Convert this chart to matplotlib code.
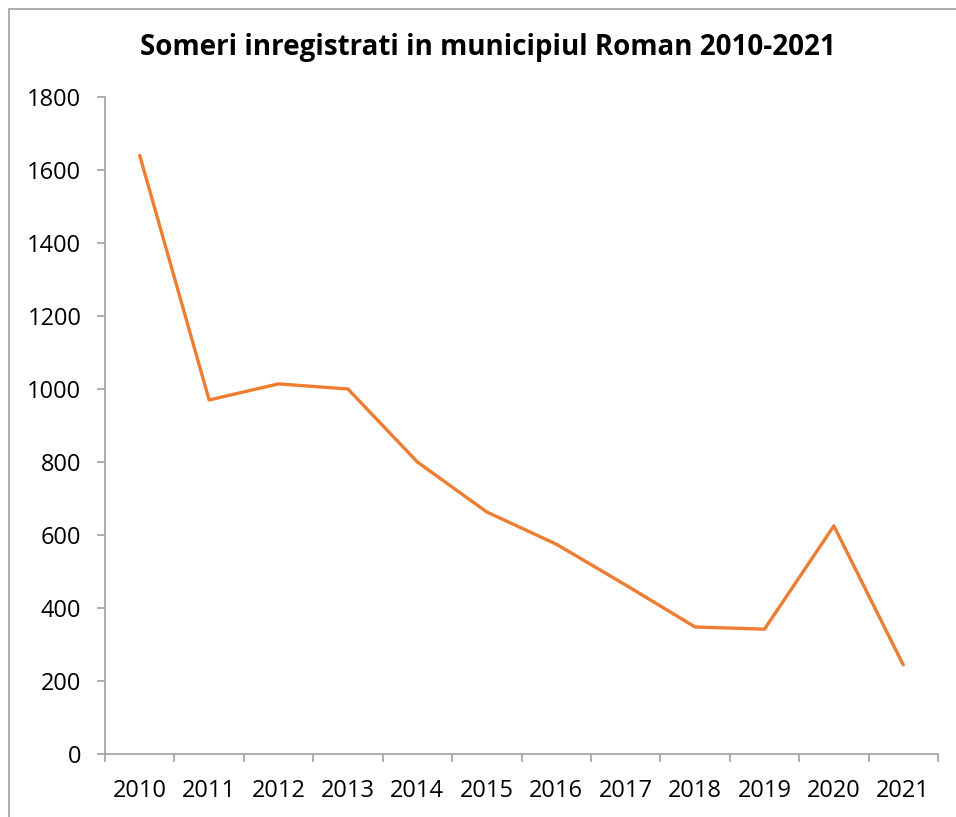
import matplotlib

matplotlib.use("Agg")
import matplotlib.pyplot as plt
from matplotlib.patches import Rectangle

years = ["2010", "2011", "2012", "2013", "2014", "2015",
         "2016", "2017", "2018", "2019", "2020", "2021"]
someri = [1640, 970, 1014, 1000, 800, 663, 575, 463, 348, 342, 625, 244]
y_ticks = [0, 200, 400, 600, 800, 1000, 1200, 1400, 1600, 1800]

ORANGE = "#ED7D31"
AXIS = "#A0A0A0"

plt.rcParams["font.family"] = ["Open Sans", "DejaVu Sans"]

W, H = 956, 817
fig = plt.figure(figsize=(W / 100, H / 100), dpi=100, facecolor="white")

# outer chart frame
fig.patches.append(Rectangle((9 / W, -0.1), 1.2, 1 - 9 / H + 0.1, transform=fig.transFigure,
                             fill=False, edgecolor=AXIS, linewidth=1.2))

ax = fig.add_axes([105 / W, 1 - 754 / H, (938 - 105) / W, (754 - 97) / H])
x = range(len(years))
ax.plot(x, someri, color=ORANGE, linewidth=2.4, solid_capstyle="round")

ax.set_xlim(-0.5, len(years) - 0.5)
ax.set_ylim(0, 1800)
ax.set_yticks(y_ticks)
ax.set_xticks(list(x))
ax.set_xticklabels(years)
# tick marks sit between categories
ax.set_xticks([i - 0.5 for i in range(len(years) + 1)], minor=True)
ax.tick_params(axis="x", which="major", length=0, pad=18, labelsize=17)
ax.tick_params(axis="x", which="minor", length=6, color=AXIS, width=1.2)
ax.tick_params(axis="y", length=6, color=AXIS, width=1.2, pad=11, labelsize=17)

for side in ["top", "right"]:
    ax.spines[side].set_visible(False)
for side in ["left", "bottom"]:
    ax.spines[side].set_color(AXIS)
    ax.spines[side].set_linewidth(1.2)

fig.text(488 / W, 1 - 47 / H, "Someri inregistrati in municipiul Roman 2010-2021",
         ha="center", va="center", fontsize=20, fontweight="bold")

fig.savefig("out.png", dpi=100, facecolor="white")
